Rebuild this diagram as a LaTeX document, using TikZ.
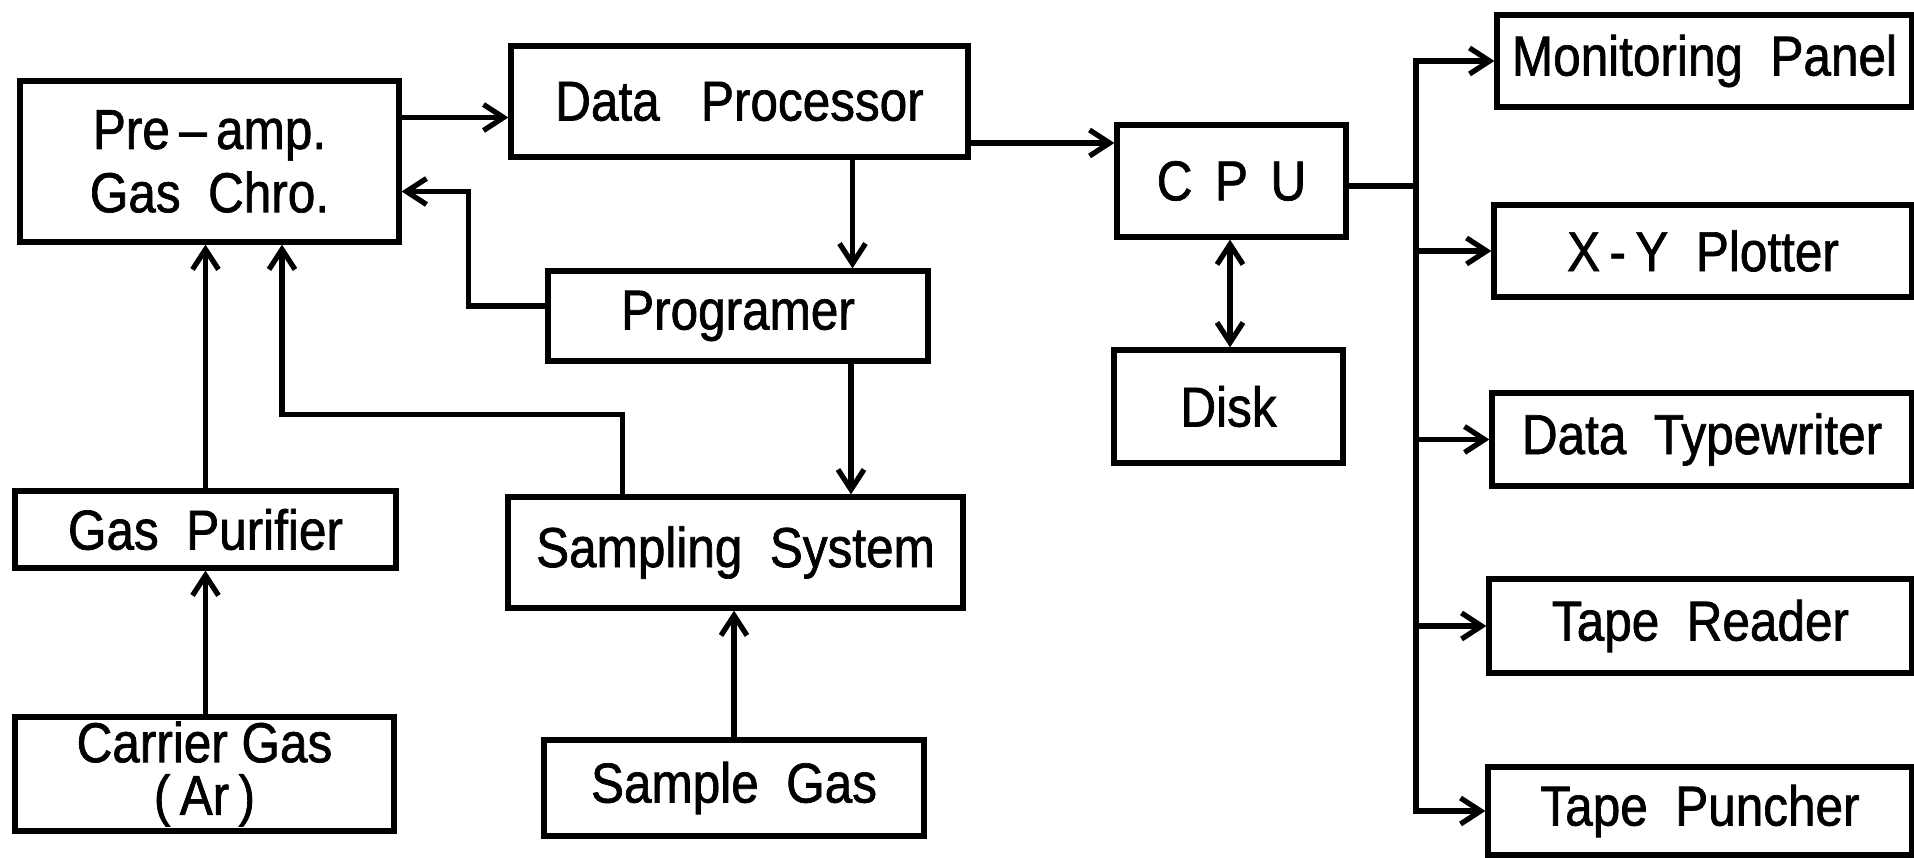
\documentclass[tikz,border=0pt]{standalone}
\usepackage{fontspec}
\setmainfont[FakeStretch=0.88,FakeBold=1.2]{Liberation Sans}
\usetikzlibrary{arrows.meta}

\begin{document}
\begin{tikzpicture}[
    box/.style={draw, line width=1.5pt, inner sep=0pt, align=center,
                font=\fontsize{16}{18}\selectfont},
    wire/.style={line width=1.5pt},
    arr/.style={wire, -{Straight Barb[length=2mm,width=2.6mm]}},
    both/.style={wire, {Straight Barb[length=2mm,width=2.6mm]}-{Straight Barb[length=2mm,width=2.6mm]}}
]
\useasboundingbox (0,0) rectangle (19.14,8.58);

% left part
\node[box, minimum width=3.79cm, minimum height=1.61cm] (pre) at (2.095,6.965) {Pre\,--\,amp.\\Gas~~Chro.};
\node[box, minimum width=4.57cm, minimum height=1.11cm] (dp) at (7.395,7.565) {Data~~~Processor};
\node[box, minimum width=3.80cm, minimum height=0.90cm] (prog) at (7.38,5.42) {Programer};
\node[box, minimum width=3.81cm, minimum height=0.77cm] (pur) at (2.055,3.285) {Gas~~Purifier};
\node[box, minimum width=4.55cm, minimum height=1.11cm] (samp) at (7.355,3.055) {Sampling~~System};
\node[box, minimum width=3.79cm, minimum height=1.14cm, font=\fontsize{16}{15}\selectfont] (car) at (2.045,0.84) {Carrier~Gas\\(\,Ar\,)};
\node[box, minimum width=3.80cm, minimum height=0.96cm] (sgas) at (7.34,0.70) {Sample~~Gas};

% computer
\node[box, minimum width=2.29cm, minimum height=1.12cm] (cpu) at (12.315,6.77) {C\hspace{0.4em}P\hspace{0.4em}U};
\node[box, minimum width=2.29cm, minimum height=1.13cm] (disk) at (12.285,4.515) {Disk};

% output devices
\node[box, minimum width=4.15cm, minimum height=0.92cm] (mon) at (17.045,7.97) {Monitoring~~Panel};
\node[box, minimum width=4.18cm, minimum height=0.92cm] (xy) at (17.03,6.07) {X\,-\,Y~~Plotter};
\node[box, minimum width=4.20cm, minimum height=0.93cm] (typ) at (17.02,4.185) {Data~~Typewriter};
\node[box, minimum width=4.23cm, minimum height=0.94cm] (rdr) at (17.005,2.32) {Tape~~Reader};
\node[box, minimum width=4.24cm, minimum height=0.88cm] (pun) at (17.0,0.47) {Tape~~Puncher};

% connections
\draw[arr] ([yshift=-1.6mm]dp.west -| pre.east) -- ([yshift=-1.6mm]dp.west);
\draw[arr] ([yshift=3.8mm]cpu.west -| dp.east) -- ([yshift=3.8mm]cpu.west);
\draw[arr] ([xshift=11.3mm]dp.south) -- ([xshift=11.3mm]dp.south |- prog.north);
\draw[arr] ([xshift=11.3mm]prog.south) -- ([xshift=11.3mm]prog.south |- samp.north);
\draw[arr] ([yshift=1mm]prog.west) -- ++(-0.77,0) |- ([yshift=-3mm]pre.east);
\draw[arr] ([xshift=-11.3mm]samp.north) -- ++(0,0.8) -| ([xshift=7.25mm]pre.south);
\draw[arr] (pur.north) -- (pur.north |- pre.south);
\draw[arr] (car.north -| pur.north) -- (pur.south);
\draw[arr] (sgas.north) -- (sgas.north |- samp.south);
\draw[both] (cpu.south -| 12.30,0) -- (disk.north -| 12.30,0);

\coordinate (bus) at (14.16,6.72);
\draw[wire] (cpu.east |- bus) -- (bus);
\foreach \t in {mon,xy,typ,rdr,pun}
    \draw[arr] (bus) |- (\t.west);
\end{tikzpicture}
\end{document}
